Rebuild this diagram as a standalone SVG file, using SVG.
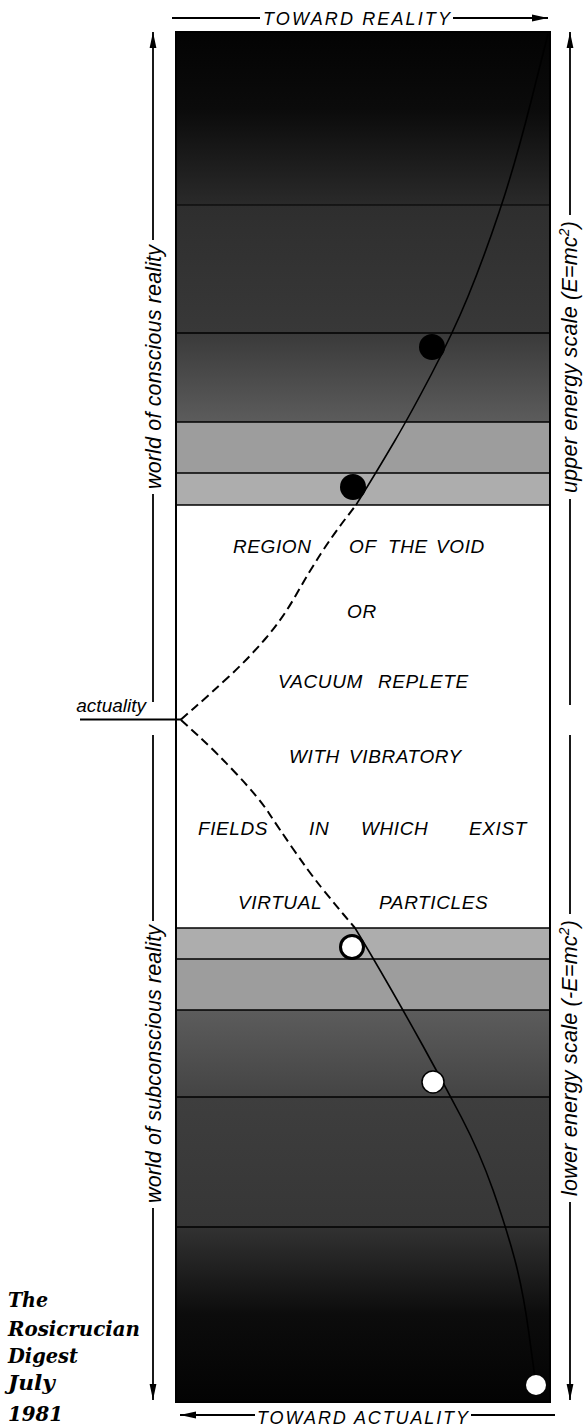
<svg xmlns="http://www.w3.org/2000/svg" width="587" height="1427" viewBox="0 0 587 1427">
<style>
.sans{font-family:"Liberation Sans",Arial,sans-serif;font-style:italic;fill:#000}
.void{font-size:19px;letter-spacing:0.6px}
.side{font-size:21.5px}
.head{font-size:18px}
.pub{font-family:"DejaVu Serif","Liberation Serif",serif;font-weight:bold;font-style:italic;font-size:21px;fill:#000}
.ln{stroke:#000;stroke-width:1.8;fill:none}
.band{stroke:#000;stroke-width:1.5}
.dash{stroke:#000;stroke-width:2;fill:none;stroke-dasharray:9 5}
.solid{stroke:#000;stroke-width:1.6;fill:none}
</style>
<defs>
<marker id="ah" viewBox="0 0 16 8" refX="16" refY="4" markerWidth="16" markerHeight="8" markerUnits="userSpaceOnUse" orient="auto">
<path d="M0,0.6 L16,4 L0,7.4 z" fill="#000"/>
</marker>
<linearGradient id="gTop" x1="0" y1="0" x2="0" y2="1">
<stop offset="0" stop-color="#030303"/><stop offset="0.45" stop-color="#0b0b0b"/><stop offset="1" stop-color="#2a2a2a"/>
</linearGradient>
<linearGradient id="gU2" x1="0" y1="0" x2="0" y2="1">
<stop offset="0" stop-color="#2e2e2e"/><stop offset="1" stop-color="#383838"/>
</linearGradient>
<linearGradient id="gU3" x1="0" y1="0" x2="0" y2="1">
<stop offset="0" stop-color="#3a3a3a"/><stop offset="1" stop-color="#5c5c5c"/>
</linearGradient>
<linearGradient id="gL3" x1="0" y1="0" x2="0" y2="1">
<stop offset="0" stop-color="#5c5c5c"/><stop offset="1" stop-color="#444"/>
</linearGradient>
<linearGradient id="gL2" x1="0" y1="0" x2="0" y2="1">
<stop offset="0" stop-color="#3e3e3e"/><stop offset="1" stop-color="#363636"/>
</linearGradient>
<linearGradient id="gBot" x1="0" y1="0" x2="0" y2="1">
<stop offset="0" stop-color="#323232"/><stop offset="0.5" stop-color="#0c0c0c"/><stop offset="1" stop-color="#030303"/>
</linearGradient>
</defs>
<rect x="0" y="0" width="587" height="1427" fill="#fff"/>

<g id="column">
<rect x="176" y="32" width="374" height="173" fill="url(#gTop)"/>
<rect x="176" y="205" width="374" height="128" fill="url(#gU2)"/>
<rect x="176" y="333" width="374" height="89" fill="url(#gU3)"/>
<rect x="176" y="422" width="374" height="51" fill="#9d9d9d"/>
<rect x="176" y="473" width="374" height="32" fill="#adadad"/>
<rect x="176" y="505" width="374" height="423" fill="#fff"/>
<rect x="176" y="928" width="374" height="31" fill="#adadad"/>
<rect x="176" y="959" width="374" height="51" fill="#9d9d9d"/>
<rect x="176" y="1010" width="374" height="87" fill="url(#gL3)"/>
<rect x="176" y="1097" width="374" height="130" fill="url(#gL2)"/>
<rect x="176" y="1227" width="374" height="175" fill="url(#gBot)"/>
<g class="band">
<line x1="176" y1="205" x2="550" y2="205" stroke-width="1"/>
<line x1="176" y1="333" x2="550" y2="333"/>
<line x1="176" y1="422" x2="550" y2="422"/>
<line x1="176" y1="473" x2="550" y2="473"/>
<line x1="176" y1="505" x2="550" y2="505"/>
<line x1="176" y1="928" x2="550" y2="928"/>
<line x1="176" y1="959" x2="550" y2="959"/>
<line x1="176" y1="1010" x2="550" y2="1010"/>
<line x1="176" y1="1097" x2="550" y2="1097"/>
<line x1="176" y1="1227" x2="550" y2="1227"/>
</g>
<rect x="176" y="32" width="374" height="1370" fill="none" stroke="#000" stroke-width="2"/>
</g>

<g id="connectors">
<path class="dash" d="M181,719.5 L195,707.25 Q209,695 229,676.5 Q249,658 266,638 Q283,618 296,595 Q309,572 321,553.5 Q333,535 344.5,520 L356,505"/>
<path class="solid" d="M356,505 L368,485.5 Q380,466 395,440.5 Q410,415 431.5,374 Q453,333 468,296.5 Q483,260 499,212.5 Q515,165 531.5,99.5 L548,34"/>
<path class="dash" d="M181,720 L198.5,736 Q216,752 237.5,775 Q259,798 268.5,812.5 Q278,827 293.5,849.5 Q309,872 321,887 Q333,902 344,915 L355,928"/>
<path class="solid" d="M355,928 L364,943 Q373,958 388,984 Q403,1010 423,1046 Q443,1082 461.5,1117.5 Q480,1153 493,1190 Q506,1227 514.5,1258.5 Q523,1290 529,1334 L535,1378"/>
<line class="ln" x1="80" y1="719.5" x2="181" y2="719.5"/>
<line class="ln" x1="172" y1="18" x2="260" y2="18"/>
<line class="ln" x1="453" y1="18" x2="548" y2="18" marker-end="url(#ah)"/>
<line class="ln" x1="255" y1="1415" x2="180" y2="1415" marker-end="url(#ah)"/>
<line class="ln" x1="471" y1="1415" x2="555" y2="1415"/>
<line class="ln" x1="153" y1="240" x2="153" y2="32" marker-end="url(#ah)"/>
<line class="ln" x1="153" y1="494" x2="153" y2="702"/>
<line class="ln" x1="153" y1="735" x2="153" y2="921"/>
<line class="ln" x1="153" y1="1208" x2="153" y2="1400" marker-end="url(#ah)"/>
<line class="ln" x1="570" y1="215" x2="570" y2="32" marker-end="url(#ah)"/>
<line class="ln" x1="570" y1="499" x2="570" y2="705"/>
<line class="ln" x1="570" y1="735" x2="570" y2="914"/>
<line class="ln" x1="570" y1="1202" x2="570" y2="1400" marker-end="url(#ah)"/>
</g>

<g id="particles">
<circle cx="432" cy="347" r="13" fill="#000"/>
<circle cx="353" cy="487" r="13" fill="#000"/>
<circle cx="352" cy="947" r="11.5" fill="#fff" stroke="#000" stroke-width="3"/>
<circle cx="433" cy="1082" r="11" fill="#fff" stroke="#000" stroke-width="1.5"/>
<circle cx="536" cy="1385" r="10" fill="#fff"/>
</g>

<g id="void-text" class="sans void">
<text y="553"><tspan x="233">REGION</tspan><tspan x="349">OF</tspan><tspan x="388">THE</tspan><tspan x="436">VOID</tspan></text>
<text y="618" x="347">OR</text>
<text y="688"><tspan x="278">VACUUM</tspan><tspan x="378">REPLETE</tspan></text>
<text y="763"><tspan x="289">WITH</tspan><tspan x="349">VIBRATORY</tspan></text>
<text y="835"><tspan x="198">FIELDS</tspan><tspan x="309">IN</tspan><tspan x="361">WHICH</tspan><tspan x="469">EXIST</tspan></text>
<text y="909"><tspan x="238">VIRTUAL</tspan><tspan x="379">PARTICLES</tspan></text>
</g>

<g id="headings" class="sans head">
<text x="263" y="25" textLength="187" lengthAdjust="spacing">TOWARD REALITY</text>
<text x="257" y="1424" textLength="211" lengthAdjust="spacing">TOWARD ACTUALITY</text>
</g>

<g id="side-labels" class="sans side" text-anchor="middle">
<text transform="translate(161,367) rotate(-90)" textLength="244" lengthAdjust="spacing">world of conscious reality</text>
<text transform="translate(161,1064) rotate(-90)" textLength="278" lengthAdjust="spacing">world of subconscious reality</text>
<text transform="translate(577,357) rotate(-90)" textLength="272" lengthAdjust="spacing">upper energy scale (E=mc<tspan font-size="14" dy="-8">2</tspan><tspan dy="8">)</tspan></text>
<text transform="translate(577,1058) rotate(-90)" textLength="276" lengthAdjust="spacing">lower energy scale (-E=mc<tspan font-size="14" dy="-8">2</tspan><tspan dy="8">)</tspan></text>
<text x="146" y="712" text-anchor="end" font-size="19">actuality</text>
</g>

<g id="publication" class="pub">
<text x="8" y="1307" textLength="40" lengthAdjust="spacingAndGlyphs">The</text>
<text x="8" y="1336" textLength="132" lengthAdjust="spacingAndGlyphs">Rosicrucian</text>
<text x="8" y="1363" textLength="70" lengthAdjust="spacingAndGlyphs">Digest</text>
<text x="8" y="1390" textLength="47" lengthAdjust="spacingAndGlyphs">July</text>
<text x="8" y="1421" textLength="55" lengthAdjust="spacingAndGlyphs">1981</text>
</g>
</svg>
